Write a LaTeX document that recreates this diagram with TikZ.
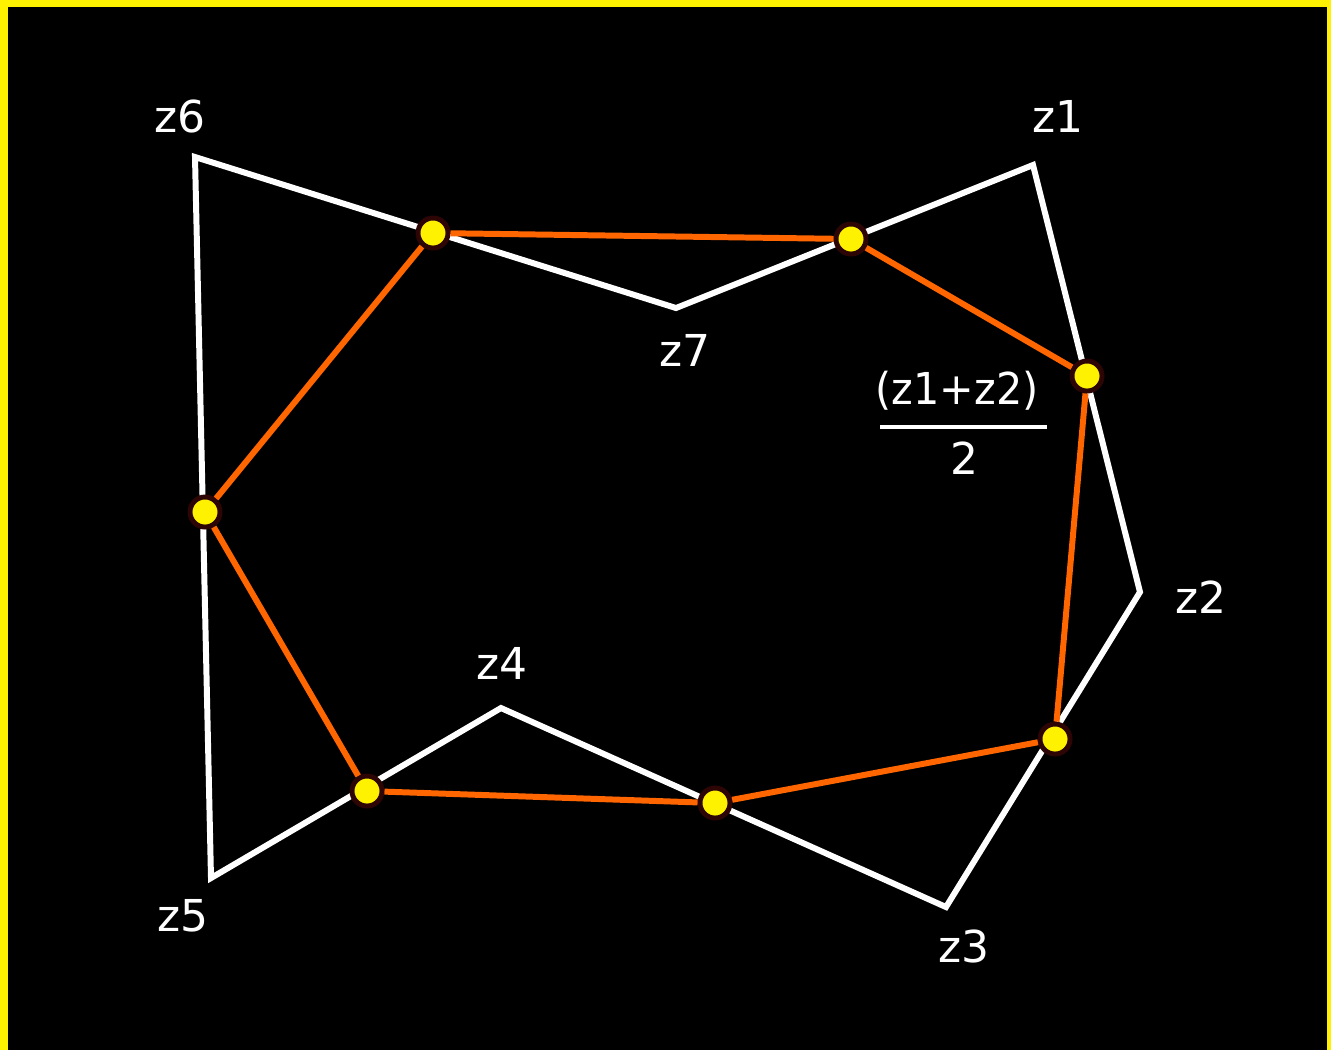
\documentclass[tikz,border=0pt]{standalone}
\usepackage{fontspec}
\setmainfont{DejaVu Sans}
\usepackage{tikz}
\usetikzlibrary{calc}

\definecolor{edgeorange}{RGB}{255,102,0}
\definecolor{dotring}{RGB}{45,5,5}

\begin{document}
\begin{tikzpicture}[
    x=0.01cm, y=-0.01cm,
    poly/.style={draw=white, line width=1.7pt, line join=miter},
    mid/.style={draw=edgeorange, line width=1.7pt},
    dot/.style={circle, fill=yellow, draw=dotring, line width=1.4pt, minimum size=0.30cm, inner sep=0pt},
    lbl/.style={text=white, font=\fontsize{12.5}{15}\selectfont, inner sep=0pt}
  ]
    % Background and frame
    \fill[yellow] (0,0) rectangle (1331,1050);
    \fill[black] (8,7) rectangle (1327,1050);

    % Vertices
    \coordinate (z1) at (1033,165);
    \coordinate (z2) at (1140,592);
    \coordinate (z3) at (946,907);
    \coordinate (z4) at (501,708);
    \coordinate (z5) at (211,878);
    \coordinate (z6) at (195,157);
    \coordinate (z7) at (676,308);

    % Outer polygon
    \draw[poly] (z1) -- (z2) -- (z3) -- (z4) -- (z5) -- (z6) -- (z7) -- cycle;

    % Midpoint nodes
    \node[dot] (m67) at (433,233) {};
    \node[dot] (m71) at (851,239) {};
    \node[dot] (m12) at (1087,376) {};
    \node[dot] (m23) at (1055,739) {};
    \node[dot] (m34) at (715,803) {};
    \node[dot] (m45) at (367,791) {};
    \node[dot] (m56) at (205,512) {};

    % Inner polygon
    \draw[mid] (m67) -- (m71) -- (m12) -- (m23) -- (m34) -- (m45) -- (m56) -- (m67);

    % Labels
    \node[lbl] (l1) at (1058,116) {z1};
    \node[lbl] (l2) at (1201,597) {z2};
    \node[lbl] (l3) at (964,946) {z3};
    \node[lbl] (l4) at (502,663) {z4};
    \node[lbl] (l5) at (183,916) {z5};
    \node[lbl] (l6) at (180,116) {z6};
    \node[lbl] (l7) at (685,350) {z7};

    % Fraction
    \node[lbl, xscale=0.94] (num) at (957,391) {(z1+z2)};
    \node[lbl] (den) at (964,458) {2};
    \draw[white, line width=1.15pt] (880,427) -- (1047,427);

  \end{tikzpicture}
\end{document}
